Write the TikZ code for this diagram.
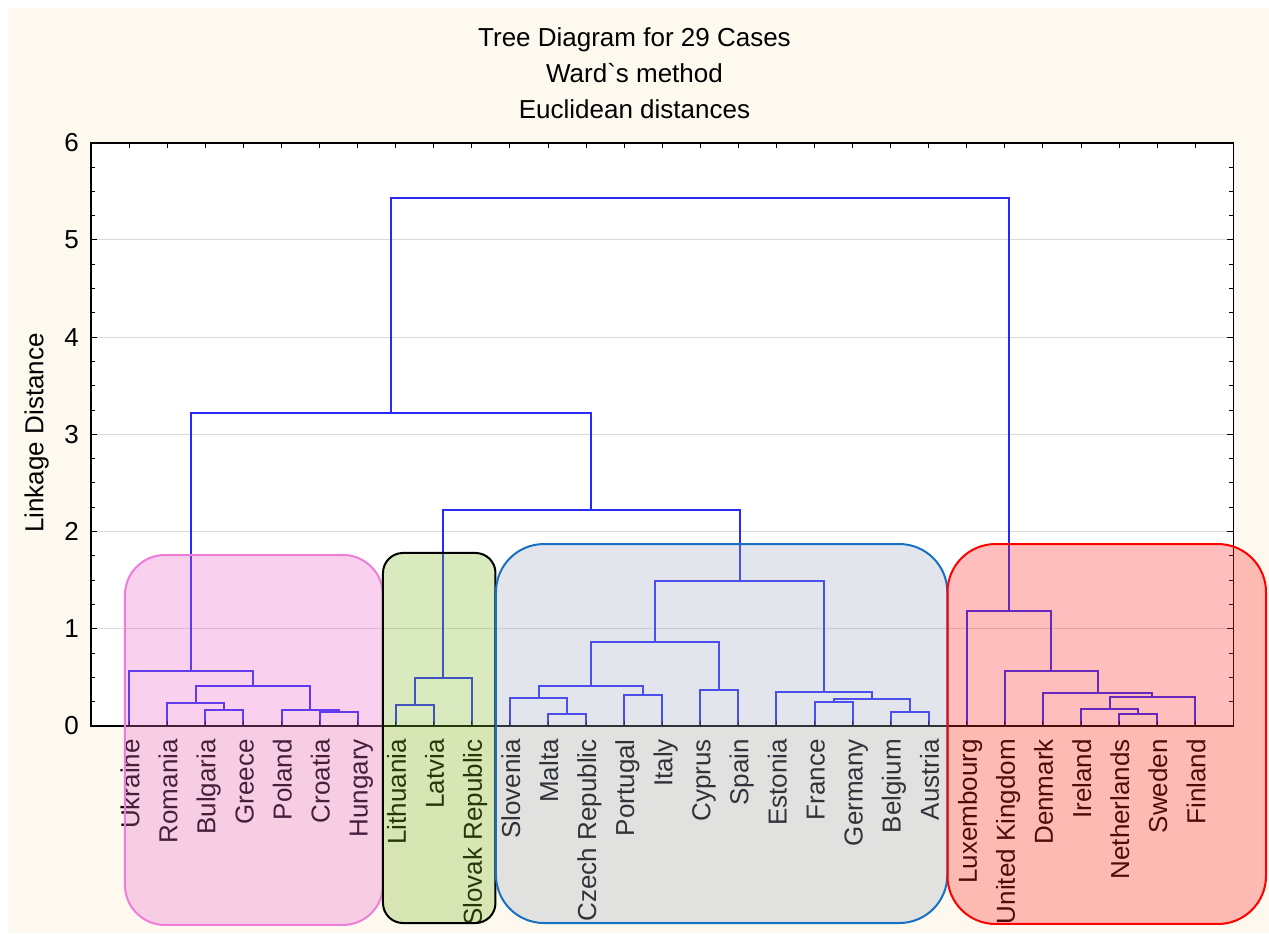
\documentclass[tikz,border=0pt]{standalone}
\usepackage{fontspec}
\setmainfont{Liberation Sans}[Ligatures=TeXOff]
\definecolor{cream}{RGB}{253,249,238}
\definecolor{dendro}{RGB}{40,40,255}
\definecolor{gridc}{RGB}{218,218,218}
\definecolor{pinkfill}{RGB}{236,104,205}
\definecolor{pinkline}{RGB}{238,125,216}
\definecolor{greenfill}{RGB}{128,188,43}
\definecolor{grayfill}{RGB}{161,171,191}
\definecolor{grayline}{RGB}{22,112,196}
\definecolor{redfill}{RGB}{255,42,42}
\definecolor{redline}{RGB}{255,0,0}
\begin{document}
\begin{tikzpicture}[x=38.07pt, y=97.2pt,
  font=\fontsize{26pt}{30pt}\selectfont,
  link/.style={draw=dendro, line width=2pt, line cap=rect},
  leaflabel/.style={rotate=90, anchor=base east, inner sep=0pt},
  ticklabel/.style={anchor=east, inner sep=0pt},
  plotframe/.style={draw=black, line width=1.5pt},
  gridline/.style={draw=gridc, line width=1pt},
  tickmark/.style={draw=black, line width=1pt},
  groupbox/.style={line width=2pt, fill opacity=0.3, draw opacity=1},
]
\useasboundingbox (-3.396,-2.130) rectangle (29.937,7.469);
\fill[white] (-3.396,-2.130) rectangle (29.937,7.469);
\fill[cream] (-3.186,-2.130) rectangle (29.937,7.387);
\fill[white] (-1,0) rectangle (29,6);
\foreach \k in {1,...,5} \draw[gridline] (-1,\k) -- (29,\k);

% leaves
\foreach \i in {0,...,28} \coordinate (L\i) at (\i,0);

% pink cluster
\coordinate (p1) at (2.5,0.161);
\coordinate (p2) at (1.75,0.237);
\coordinate (p3) at (5.5,0.140);
\coordinate (p4) at (4.75,0.165);
\coordinate (p5) at (3.25,0.408);
\coordinate (p6) at (1.625,0.569);
\draw[link] (L2) |- (p1) -| (L3);
\draw[link] (L1) |- (p2) -| (p1);
\draw[link] (L5) |- (p3) -| (L6);
\draw[link] (L4) |- (p4) -| (p3);
\draw[link] (p2) |- (p5) -| (p4);
\draw[link] (L0) |- (p6) -| (p5);

% green cluster
\coordinate (g1) at (7.5,0.219);
\coordinate (g2) at (8.25,0.497);
\draw[link] (L7) |- (g1) -| (L8);
\draw[link] (g1) |- (g2) -| (L9);

% gray cluster
\coordinate (c1) at (11.5,0.127);
\coordinate (c2) at (10.75,0.288);
\coordinate (c3) at (13.5,0.322);
\coordinate (c4) at (12.125,0.408);
\coordinate (c5) at (15.5,0.370);
\coordinate (c6) at (13.8125,0.867);
\coordinate (c7) at (18.5,0.250);
\coordinate (c8) at (20.5,0.140);
\coordinate (c9) at (19.5,0.278);
\coordinate (c10) at (18.25,0.350);
\coordinate (c11) at (16.03125,1.492);
\draw[link] (L11) |- (c1) -| (L12);
\draw[link] (L10) |- (c2) -| (c1);
\draw[link] (L13) |- (c3) -| (L14);
\draw[link] (c2) |- (c4) -| (c3);
\draw[link] (L15) |- (c5) -| (L16);
\draw[link] (c4) |- (c6) -| (c5);
\draw[link] (L18) |- (c7) -| (L19);
\draw[link] (L20) |- (c8) -| (L21);
\draw[link] (c7) |- (c9) -| (c8);
\draw[link] (L17) |- (c10) -| (c9);
\draw[link] (c6) |- (c11) -| (c10);

% red cluster
\coordinate (r1) at (26.5,0.120);
\coordinate (r2) at (25.75,0.178);
\coordinate (r3) at (26.875,0.295);
\coordinate (r4) at (25.4375,0.336);
\coordinate (r5) at (24.21875,0.566);
\coordinate (r6) at (23.109375,1.180);
\draw[link] (L26) |- (r1) -| (L27);
\draw[link] (L25) |- (r2) -| (r1);
\draw[link] (r2) |- (r3) -| (L28);
\draw[link] (L24) |- (r4) -| (r3);
\draw[link] (L23) |- (r5) -| (r4);
\draw[link] (L22) |- (r6) -| (r5);

% upper merges
\coordinate (jgc) at (12.14,2.222);
\coordinate (jpg) at (6.88,3.215);
\coordinate (jall) at (15.0,5.432);
\draw[link] (g2) |- (jgc) -| (c11);
\draw[link] (p6) |- (jpg) -| (jgc);
\draw[link] (jpg) |- (jall) -| (r6);

% frame and ticks
\draw[plotframe] (-1,0) rectangle (29,6);
\foreach \i in {0,...,28} {
  \draw[tickmark] (\i,6) -- ++(0,-5pt);
  \draw[tickmark] (\i,0) -- ++(0,5pt);
}
\foreach \k in {0,...,6} {
  \draw[tickmark] (-1,\k) -- ++(6pt,0);
  \draw[tickmark] (29,\k) -- ++(-6pt,0);
}
\foreach \k in {0.25,0.5,...,5.8} {
  \draw[tickmark] (-1,\k) -- ++(4pt,0);
  \draw[tickmark] (29,\k) -- ++(-4pt,0);
}

% axis labels
\foreach \k in {0,...,6} \node[ticklabel] (y\k) at (-1.321,\k) {\k};
\node[rotate=90] (ylab) at (-2.43,3.014) {Linkage Distance};

% title
\node[anchor=base] (t1) at (13.27,6.986) {Tree Diagram for 29 Cases};
\node[anchor=base] (t2) at (13.27,6.625) {Ward`s method};
\node[anchor=base] (t3) at (13.27,6.245) {Euclidean distances};

% leaf labels
\foreach \i/\n in {0/Ukraine,1/Romania,2/Bulgaria,3/Greece,4/Poland,5/Croatia,6/Hungary,
  7/Lithuania,8/Latvia,9/Slovak Republic,10/Slovenia,11/Malta,12/Czech Republic,
  13/Portugal,14/Italy,15/Cyprus,16/Spain,17/Estonia,18/France,19/Germany,
  20/Belgium,21/Austria,22/Luxembourg,23/United Kingdom,24/Denmark,25/Ireland,
  26/Netherlands,27/Sweden,28/Finland}
  \node[leaflabel] (n\i) at ({\i+0.263},-0.134) {\n};

% group boxes
\draw[groupbox, draw=pinkline, fill=pinkfill, rounded corners=40pt]
  (-0.113,-2.047) rectangle (6.664,1.759);
\draw[groupbox, draw=black, fill=greenfill, rounded corners=20pt]
  (6.664,-2.027) rectangle (9.619,1.780);
\draw[groupbox, draw=grayline, fill=grayfill, rounded corners=48pt]
  (9.632,-2.027) rectangle (21.487,1.872);
\draw[groupbox, draw=redline, fill=redfill, rounded corners=48pt]
  (21.492,-2.037) rectangle (29.858,1.872);
\end{tikzpicture}
\end{document}
